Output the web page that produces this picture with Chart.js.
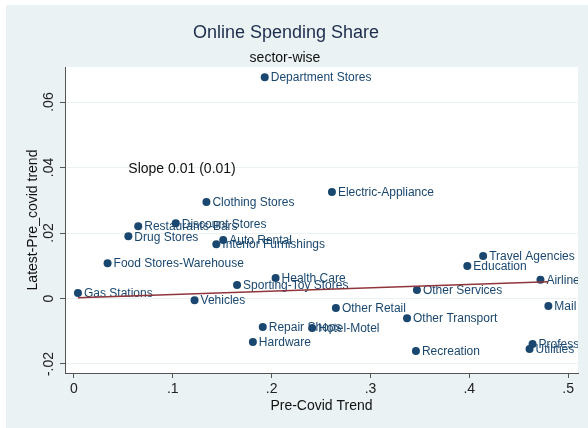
<!DOCTYPE html>
<html>
<head>
<meta charset="utf-8">
<script src="https://cdn.jsdelivr.net/npm/chart.js@4"></script>
<style>
  body { margin: 0; background: #ffffff; }
  canvas { display: block; }
</style>
</head>
<body>
<canvas id="chart" width="588" height="428"></canvas>
<script>
// sector data
const sectors = [
  'Department Stores', 'Electric-Appliance', 'Clothing Stores', 'Discount Stores',
  'Restaurants-Bars', 'Drug Stores', 'Auto Rental', 'Interior Furnishings',
  'Food Stores-Warehouse', 'Health Care', 'Sporting-Toy Stores', 'Gas Stations',
  'Vehicles', 'Repair Shops', 'Hotel-Motel', 'Hardware', 'Other Retail',
  'Other Transport', 'Other Services', 'Recreation', 'Travel Agencies',
  'Education', 'Airline', 'Mail Order', 'Professional Services', 'Utilities'
];
const preCovidTrend = [
  0.193, 0.261, 0.134, 0.103,
  0.065, 0.055, 0.151, 0.144,
  0.034, 0.204, 0.165, 0.004,
  0.122, 0.191, 0.241, 0.181, 0.265,
  0.337, 0.347, 0.346, 0.414,
  0.398, 0.472, 0.480, 0.464, 0.461
];
const latestMinusPre = [
  0.0676, 0.0325, 0.0295, 0.0230,
  0.0221, 0.0190, 0.0179, 0.0166,
  0.0108, 0.0063, 0.0041, 0.0017,
  -0.0005, -0.0087, -0.0090, -0.0133, -0.0029,
  -0.0060, 0.0026, -0.0160, 0.0130,
  0.0099, 0.0057, -0.0023, -0.0139, -0.0154
];
// fitted line endpoints
const fitX = [0.004, 0.480];
const fitY = [0.0002, 0.0051];

const xTicks = [0, 0.1, 0.2, 0.3, 0.4, 0.5];
const yTicks = [-0.02, 0, 0.02, 0.04, 0.06];
const slopeNote = 'Slope 0.01 (0.01)';

const FONT = '"Liberation Sans", Arial, sans-serif';
const BG = '#eaf2f3';
const NAVY = '#1a476f';

function stataNum(v) {
  if (Math.abs(v) < 1e-9) return '0';
  return String(+v.toFixed(2)).replace(/^(-?)0\./, '$1.');
}

const decor = {
  id: 'decor',
  beforeDraw(chart) {
    const ctx = chart.ctx, a = chart.chartArea;
    ctx.save();
    ctx.fillStyle = BG;
    ctx.fillRect(6, 5, chart.width - 6, chart.height - 5);
    ctx.fillStyle = '#ffffff';
    ctx.fillRect(a.left, a.top, a.right - a.left, a.bottom - a.top);
    ctx.textAlign = 'center';
    ctx.textBaseline = 'middle';
    ctx.fillStyle = '#1c2c4c';
    ctx.font = '18px ' + FONT;
    ctx.fillText('Online Spending Share', 286, 33);
    ctx.fillStyle = '#111';
    ctx.font = '14px ' + FONT;
    ctx.fillText('sector-wise', 285, 58);
    ctx.restore();
  },
  afterDatasetDraw(chart, args) {
    if (args.index !== 1) return;
    const ctx = chart.ctx, a = chart.chartArea;
    ctx.save();
    ctx.beginPath();
    ctx.rect(a.left, a.top, a.right - a.left, a.bottom - a.top);
    ctx.clip();
    ctx.font = '12px ' + FONT;
    ctx.fillStyle = NAVY;
    ctx.textAlign = 'left';
    ctx.textBaseline = 'middle';
    args.meta.data.forEach((pt, i) => {
      ctx.fillText(sectors[i], pt.x + 6, pt.y + 1);
    });
    ctx.restore();
  },
  afterDraw(chart) {
    const ctx = chart.ctx, a = chart.chartArea;
    const xs = chart.scales.x, ys = chart.scales.y;
    ctx.save();
    ctx.fillStyle = '#111';
    ctx.font = '14px ' + FONT;
    ctx.textAlign = 'left';
    ctx.textBaseline = 'middle';
    ctx.fillText(slopeNote, xs.getPixelForValue(0.055), ys.getPixelForValue(0.0395));
    // x axis title
    ctx.textAlign = 'center';
    ctx.fillText('Pre-Covid Trend', (a.left + a.right) / 2, 406);
    // y tick labels, rotated like Stata
    ctx.fillStyle = '#222';
    yTicks.forEach(v => {
      ctx.save();
      ctx.translate(49, ys.getPixelForValue(v));
      ctx.rotate(-Math.PI / 2);
      ctx.fillText(stataNum(v), 0, 0);
      ctx.restore();
    });
    // y axis title
    ctx.fillStyle = '#111';
    ctx.translate(33, 220);
    ctx.rotate(-Math.PI / 2);
    ctx.fillText('Latest-Pre_covid trend', 0, 0);
    ctx.restore();
  }
};

new Chart(document.getElementById('chart'), {
  type: 'scatter',
  data: {
    datasets: [
      {
        label: 'Fitted values',
        data: fitX.map((x, i) => ({ x: x, y: fitY[i] })),
        showLine: true,
        borderColor: '#90353b',
        borderWidth: 1.5,
        pointRadius: 0,
        fill: false
      },
      {
        label: 'Sectors',
        data: preCovidTrend.map((x, i) => ({ x: x, y: latestMinusPre[i] })),
        backgroundColor: NAVY,
        borderWidth: 0,
        pointRadius: 4
      }
    ]
  },
  options: {
    responsive: false,
    devicePixelRatio: 1,
    animation: false,
    layout: { padding: { top: 67, right: 10, left: 0, bottom: 0 } },
    plugins: { legend: { display: false }, tooltip: { enabled: false }, title: { display: false } },
    scales: {
      x: {
        type: 'linear',
        min: -0.0091,
        max: 0.510,
        afterBuildTicks: s => { s.ticks = xTicks.map(v => ({ value: v })); },
        afterFit: s => { s.height = 55; },
        grid: { drawOnChartArea: false, drawTicks: true, tickLength: 5, tickColor: '#555' },
        border: { display: true, color: '#555', width: 1 },
        ticks: {
          color: '#222',
          font: { family: FONT, size: 14 },
          padding: 3,
          maxRotation: 0,
          callback: v => stataNum(v)
        }
      },
      y: {
        type: 'linear',
        min: -0.02275,
        max: 0.0707,
        afterBuildTicks: s => { s.ticks = yTicks.map(v => ({ value: v })); },
        afterFit: s => { s.width = 65; },
        grid: { color: BG, lineWidth: 1, drawTicks: true, tickLength: 5, tickColor: '#555' },
        border: { display: true, color: '#555', width: 1 },
        ticks: { display: false }
      }
    }
  },
  plugins: [decor]
});
</script>
</body>
</html>
